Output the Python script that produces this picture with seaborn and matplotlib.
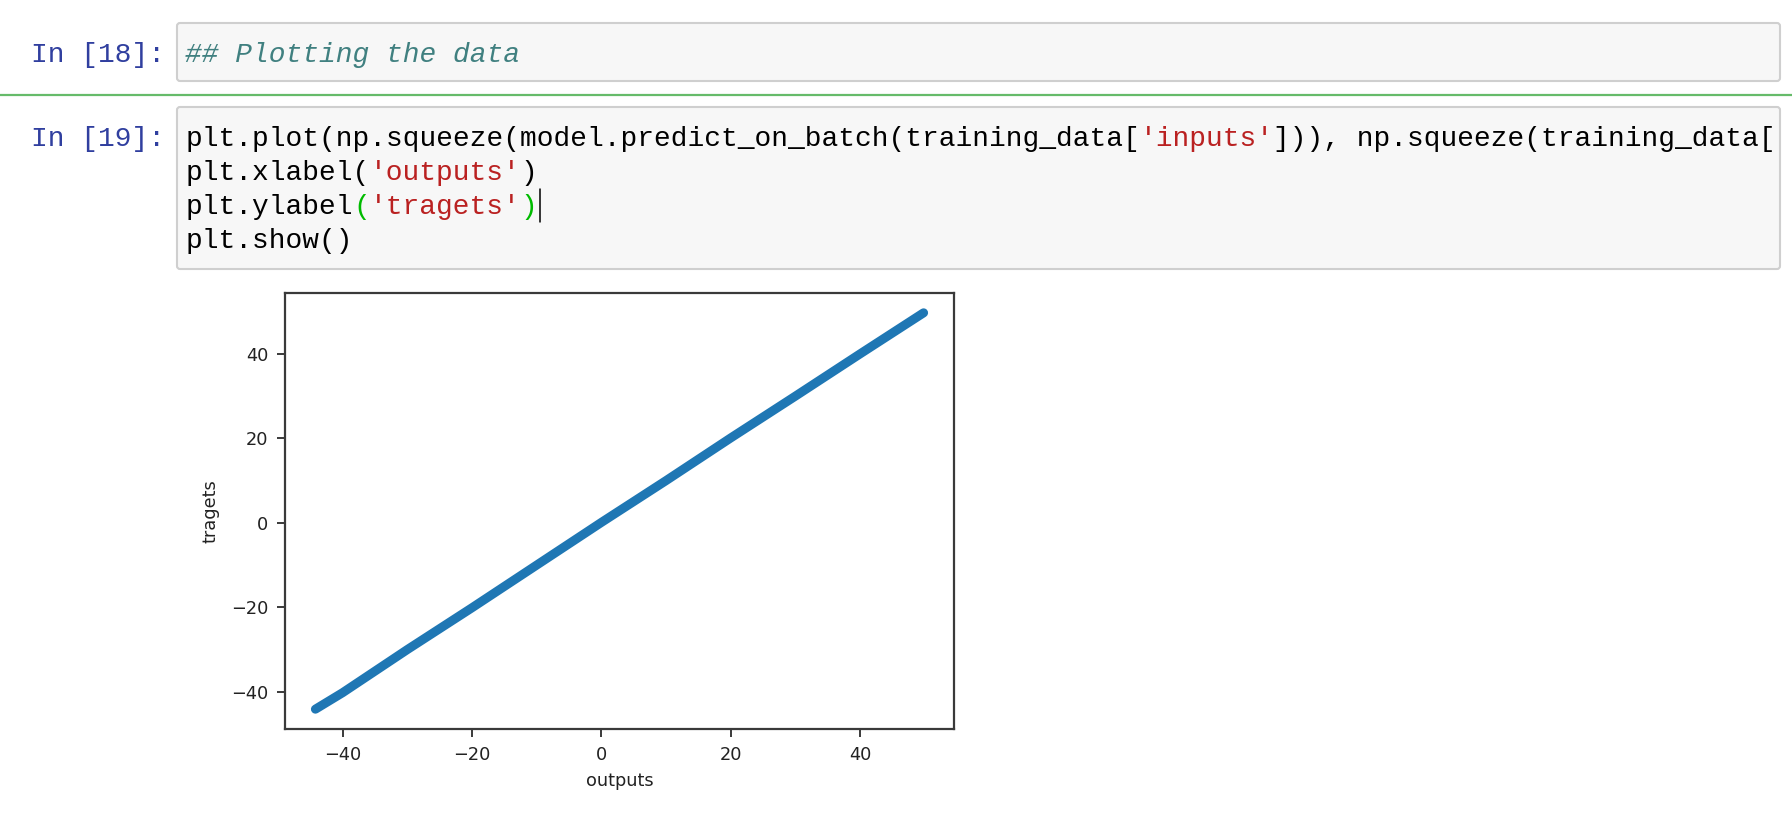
import numpy as np
import pandas as pd
import seaborn as sns
import matplotlib
matplotlib.use("Agg")
import matplotlib.pyplot as plt
from matplotlib.patches import FancyBboxPatch
from matplotlib.lines import Line2D
from matplotlib.transforms import IdentityTransform

# ---- data ----
outputs = [-44.2, -40.0, -30.0, -20.0, -10.0, 0.0, 10.0, 20.0, 30.0, 40.0, 49.8]
targets = [-44.1, -40.2, -30.0, -20.1, -10.0, 0.1, 10.0, 20.1, 30.0, 40.0, 49.7]
x_label = "outputs"
y_label = "tragets"

prompt_1 = "In [18]:"
prompt_2 = "In [19]:"
cell_1_text = "## Plotting the data"
code_lines = [
    [("plt.plot(np.squeeze(model.predict_on_batch(training_data[", "k"),
     ("'inputs'", "s"),
     ("])), np.squeeze(training_data[", "k")],
    [("plt.xlabel(", "k"), ("'outputs'", "s"), (")", "k")],
    [("plt.ylabel", "k"), ("(", "b"), ("'tragets'", "s"), (")", "b")],
    [("plt.show()", "k")],
]

W, H = 1792, 818
DPI = 100
sns.set_style("ticks")
plt.rcParams["font.family"] = ["DejaVu Sans"]

fig = plt.figure(figsize=(W / DPI, H / DPI), dpi=DPI, facecolor="white")
ident = IdentityTransform()

MONO = "Liberation Mono"
CW = 16.73                       # char advance in px
FS = CW / 0.6 * 72 / DPI         # font size in pt
colors = {"k": "#000000", "s": "#BA2121", "b": "#00BB00"}


def fx(x):
    return x / W


def fy(y):
    return 1 - y / H


def box(x0, y0, x1, y1):
    p = FancyBboxPatch((x0, H - y1), x1 - x0, y1 - y0,
                       boxstyle="round,pad=0,rounding_size=3",
                       facecolor="#F7F7F7", edgecolor="#CFCFCF",
                       linewidth=1.5, transform=ident, figure=fig)
    fig.patches.append(p)


# cells
box(177, 23, 1780, 81)
box(177, 107, 1780, 269)

# green separator line
fig.lines.append(Line2D([0, W], [H - 95, H - 95], color="#66BB6A",
                        linewidth=1.6, transform=ident, figure=fig))

# prompts
fig.text(fx(31), fy(62), prompt_1, family=MONO, fontsize=FS,
         color="#303F9F", va="baseline", ha="left")
fig.text(fx(31), fy(146.5), prompt_2, family=MONO, fontsize=FS,
         color="#303F9F", va="baseline", ha="left")

# comment cell
fig.text(fx(185), fy(62), cell_1_text, family=MONO, style="italic",
         fontsize=FS, color="#408080", va="baseline", ha="left")

# code lines
x0 = 186.0
baselines = [146.5, 180.5, 214.5, 248.0]
for line, yb in zip(code_lines, baselines):
    idx = 0
    for seg, c in line:
        fig.text(fx(x0 + idx * CW), fy(yb), seg, family=MONO, fontsize=FS,
                 color=colors[c], va="baseline", ha="left")
        idx += len(seg)

# text cursor
fig.lines.append(Line2D([539.5, 539.5], [H - 189, H - 222], color="black",
                        linewidth=1.1, transform=ident, figure=fig))

# ---- the chart ----
ax = fig.add_axes([285 / W, 1 - 729 / H, (954 - 285) / W, (729 - 293) / H])
df = pd.DataFrame({x_label: outputs, y_label: targets})
sns.lineplot(data=df, x=x_label, y=y_label, sort=False, estimator=None,
             color="#1f77b4", linewidth=6.5, solid_capstyle="round", ax=ax)
ax.margins(0.05)
ax.set_xticks([-40, -20, 0, 20, 40])
ax.set_yticks([-40, -20, 0, 20, 40])
for s in ax.spines.values():
    s.set_visible(True)
    s.set_color("#3a3a3a")
    s.set_linewidth(1.6)
ax.tick_params(axis="both", length=6, width=1.4, color="#3a3a3a",
               labelsize=12.8, labelcolor="#222222", pad=6)
ax.set_xlabel(x_label, fontsize=12.8, color="#222222", labelpad=6)
ax.set_ylabel(y_label, fontsize=12.8, color="#222222", labelpad=8)
ax.set_facecolor("white")

fig.savefig("out.png", dpi=DPI, facecolor="white")
